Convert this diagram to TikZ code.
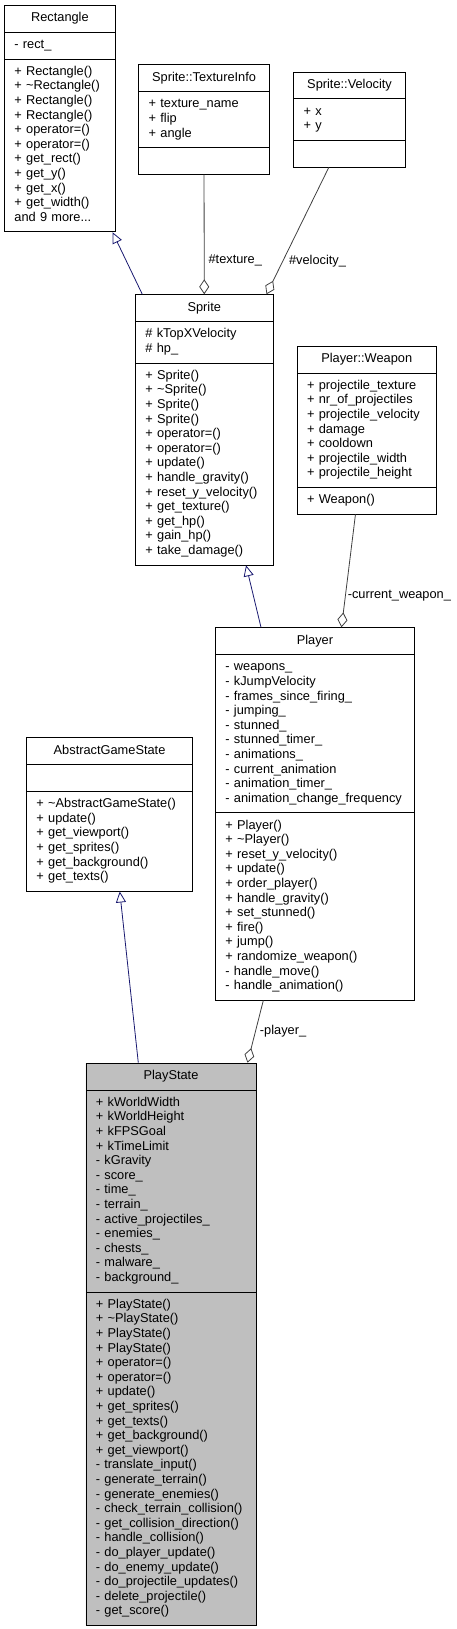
\documentclass[tikz,border=0pt]{standalone}
\usepackage{fontspec}
\usepackage{tikz}
\usetikzlibrary{arrows.meta, positioning, shapes.multipart}
\newfontfamily\dxfont{Liberation Sans}
\definecolor{inhblue}{HTML}{191970}
\definecolor{aggrey}{HTML}{404040}
\definecolor{curgrey}{HTML}{BFBFBF}
\newcommand{\cname}[1]{\strut\hspace*{\fill}#1\hspace*{\fill}\strut}
\newcommand{\mlist}[1]{\strut#1\strut}

\begin{document}
\begin{tikzpicture}[x=1pt, y=-1pt,
  classbox/.style={rectangle split, rectangle split parts=3, draw, line width=0.8pt, fill=white,
    text width=#1, align=left, inner xsep=10pt, inner ysep=5.7pt, anchor=north west,
    font=\dxfont\fontsize{12.8}{14.6}\selectfont},
  inherit/.style={draw=inhblue, line width=0.8pt, -{Triangle[open, length=11pt, width=10pt]}},
  aggr/.style={draw=aggrey, line width=0.8pt, -{Diamond[open, length=15pt, width=10pt]}},
  lbl/.style={font=\dxfont\fontsize{12.8}{14.6}\selectfont, inner sep=2pt, anchor=west}
]
\useasboundingbox (0,0) rectangle (456,1629);
\node[classbox=91pt] (rectangle) at (4,5) {\cname{Rectangle}
  \nodepart{two}\mlist{- rect\_}
  \nodepart{three}\mlist{+ Rectangle()\\+ \textasciitilde Rectangle()\\+ Rectangle()\\+ Rectangle()\\+ operator=()\\+ operator=()\\+ get\_rect()\\+ get\_y()\\+ get\_x()\\+ get\_width()\\and 9 more...}};
\node[classbox=110.7pt] (textureinfo) at (138.3,64.3) {\cname{Sprite::TextureInfo}
  \nodepart{two}\mlist{+ texture\_name\\+ flip\\+ angle}
  \nodepart{three}\mlist{}};
\node[classbox=91.7pt] (velocity) at (293.3,71.7) {\cname{Sprite::Velocity}
  \nodepart{two}\mlist{+ x\\+ y}
  \nodepart{three}\mlist{}};
\node[classbox=117.7pt] (sprite) at (135,294.3) {\cname{Sprite}
  \nodepart{two}\mlist{\# kTopXVelocity\\\# hp\_}
  \nodepart{three}\mlist{+ Sprite()\\+ \textasciitilde Sprite()\\+ Sprite()\\+ Sprite()\\+ operator=()\\+ operator=()\\+ update()\\+ handle\_gravity()\\+ reset\_y\_velocity()\\+ get\_texture()\\+ get\_hp()\\+ gain\_hp()\\+ take\_damage()}};
\node[classbox=119.3pt] (weapon) at (296.7,345.7) {\cname{Player::Weapon}
  \nodepart{two}\mlist{+ projectile\_texture\\+ nr\_of\_projectiles\\+ projectile\_velocity\\+ damage\\+ cooldown\\+ projectile\_width\\+ projectile\_height}
  \nodepart{three}\mlist{+ Weapon()}};
\node[classbox=179pt] (player) at (215,627.3) {\cname{Player}
  \nodepart{two}\mlist{- weapons\_\\- kJumpVelocity\\- frames\_since\_firing\_\\- jumping\_\\- stunned\_\\- stunned\_timer\_\\- animations\_\\- current\_animation\\- animation\_timer\_\\- animation\_change\_frequency}
  \nodepart{three}\mlist{+ Player()\\+ \textasciitilde Player()\\+ reset\_y\_velocity()\\+ update()\\+ order\_player()\\+ handle\_gravity()\\+ set\_stunned()\\+ fire()\\+ jump()\\+ randomize\_weapon()\\- handle\_move()\\- handle\_animation()}};
\node[classbox=146.3pt] (gamestate) at (26,737.3) {\cname{AbstractGameState}
  \nodepart{two}\mlist{}
  \nodepart{three}\mlist{+ \textasciitilde AbstractGameState()\\+ update()\\+ get\_viewport()\\+ get\_sprites()\\+ get\_background()\\+ get\_texts()}};
\node[classbox=150.2pt, fill=curgrey] (playstate) at (85.5,1062.7) {\cname{PlayState}
  \nodepart{two}\mlist{+ kWorldWidth\\+ kWorldHeight\\+ kFPSGoal\\+ kTimeLimit\\- kGravity\\- score\_\\- time\_\\- terrain\_\\- active\_projectiles\_\\- enemies\_\\- chests\_\\- malware\_\\- background\_}
  \nodepart{three}\mlist{+ PlayState()\\+ \textasciitilde PlayState()\\+ PlayState()\\+ PlayState()\\+ operator=()\\+ operator=()\\+ update()\\+ get\_sprites()\\+ get\_texts()\\+ get\_background()\\+ get\_viewport()\\- translate\_input()\\- generate\_terrain()\\- generate\_enemies()\\- check\_terrain\_collision()\\- get\_collision\_direction()\\- handle\_collision()\\- do\_player\_update()\\- do\_enemy\_update()\\- do\_projectile\_updates()\\- delete\_projectile()\\- get\_score()}};
\draw[inherit] ([xshift=7.3pt]sprite.north west) -- ([xshift=-3.3pt]rectangle.south east);
\draw[aggr] (textureinfo.south) -- node[lbl, pos=0.72, xshift=2pt] {\#texture\_} (sprite.north);
\draw[aggr] ([xshift=-20.8pt]velocity.south) -- node[lbl, pos=0.74, xshift=4pt] {\#velocity\_} ([xshift=-7pt]sprite.north east);
\draw[inherit] ([xshift=46pt]player.north west) -- ([xshift=41.8pt]sprite.south);
\draw[aggr] ([xshift=-11.3pt]weapon.south) -- node[lbl, pos=0.72] {-current\_weapon\_} ([xshift=-73.3pt]player.north east);
\draw[inherit] ([xshift=52.8pt]playstate.north west) -- ([xshift=10.2pt]gamestate.south);
\draw[aggr] ([xshift=48.3pt]player.south west) -- node[lbl, pos=0.49, xshift=2pt] {-player\_} ([xshift=-9pt]playstate.north east);
\end{tikzpicture}
\end{document}
